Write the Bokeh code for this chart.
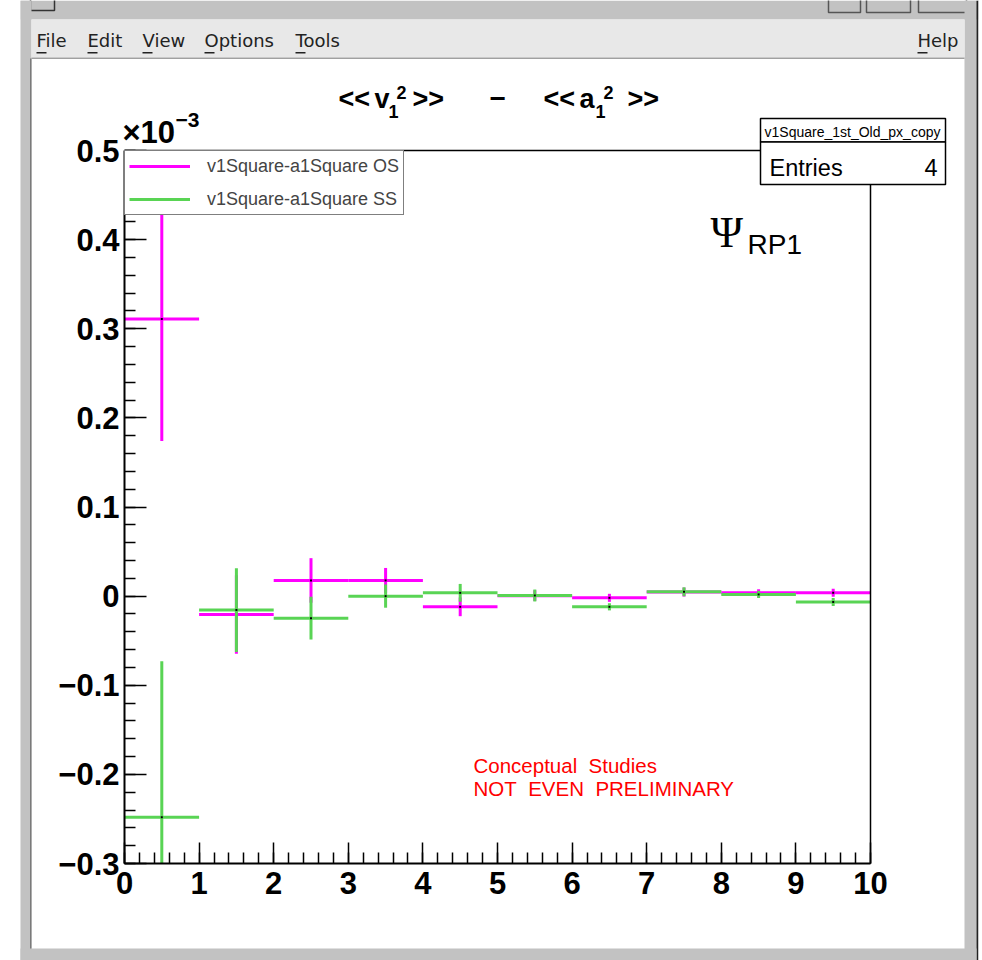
from bokeh.plotting import figure
from bokeh.models import (ColumnDataSource, FixedTicker, LinearAxis, Range1d, BoxAnnotation,
                          Label, Legend, LegendItem, CustomJSTickFormatter, GridBox)
from bokeh.embed import file_html
from bokeh.resources import INLINE

# Histogram bins (x) and the two series, values in units of 1e-3
bin_centers = [0.5, 1.5, 2.5, 3.5, 4.5, 5.5, 6.5, 7.5, 8.5, 9.5]
bin_half_width = 0.5
os_values = [0.311, -0.0206, 0.0176, 0.0176, -0.012, 0.0005, -0.0019, 0.0045, 0.0037, 0.0037]
os_errors = [0.137, 0.044, 0.025, 0.014, 0.0105, 0.006, 0.0045, 0.005, 0.004, 0.0045]
ss_values = [-0.248, -0.0157, -0.0247, 0.0, 0.0037, 0.0007, -0.012, 0.0049, 0.0019, -0.0067]
ss_errors = [0.175, 0.047, 0.024, 0.013, 0.010, 0.0067, 0.004, 0.005, 0.004, 0.0045]

os_label = "v1Square-a1Square OS"
ss_label = "v1Square-a1Square SS"
hist_name = "v1Square_1st_Old_px_copy"
entries = 4

x_major = [0, 1, 2, 3, 4, 5, 6, 7, 8, 9, 10]
x_minor = [i * 0.2 for i in range(51)]
y_major = [-0.3, -0.2, -0.1, 0.0, 0.1, 0.2, 0.3, 0.4, 0.5]
y_minor = [round(-0.3 + i * 0.02, 2) for i in range(41)]

MAGENTA = "#ff00ff"
GREEN = "#59d454"
SANS = "Liberation Sans"
W, H = 982, 960

# ---------------------------------------------------------------- main histogram pad
p = figure(width=W, height=H, x_range=Range1d(0, 10), y_range=Range1d(-0.3, 0.5),
           output_backend="svg", toolbar_location=None, title=None,
           min_border_left=124, min_border_right=112, min_border_top=150, min_border_bottom=97)
p.frame_align = False
p.grid.visible = False
p.outline_line_color = None
p.background_fill_color = "white"
p.border_fill_color = "white"


def style_axis(ax, tick_len, minor_len):
    ax.axis_line_color = "black"
    ax.axis_line_width = 2
    ax.major_tick_line_color = "black"
    ax.major_tick_line_width = 1.5
    ax.minor_tick_line_color = "black"
    ax.minor_tick_line_width = 1.5
    ax.major_tick_in = tick_len
    ax.major_tick_out = 0
    ax.minor_tick_in = minor_len
    ax.minor_tick_out = 0
    ax.major_label_text_font = SANS
    ax.major_label_text_font_style = "bold"
    ax.major_label_text_font_size = "31px"
    ax.major_label_text_color = "black"


xa = p.xaxis[0]
xa.ticker = FixedTicker(ticks=x_major, minor_ticks=x_minor)
style_axis(xa, 21, 11)
xa.major_label_standoff = 8

ya = p.yaxis[0]
ya.ticker = FixedTicker(ticks=y_major, minor_ticks=y_minor)
ya.formatter = CustomJSTickFormatter(code="""
    if (Math.abs(tick) < 1e-9) return "0";
    return tick.toFixed(1).replace("-", "\u2212");
""")
style_axis(ya, 22, 11)
ya.major_label_standoff = 5

# top and right frame edges
for side in ("above", "right"):
    ax = LinearAxis(axis_line_color="black", axis_line_width=1.5,
                    major_tick_line_color=None, minor_tick_line_color=None,
                    major_label_text_color=None, major_label_text_font_size="0px")
    p.add_layout(ax, side)


def draw_series(vals, errs, color):
    src = ColumnDataSource(dict(
        x=bin_centers, y=vals,
        x0=[c - bin_half_width for c in bin_centers],
        x1=[c + bin_half_width for c in bin_centers],
        lo=[v - e for v, e in zip(vals, errs)],
        hi=[v + e for v, e in zip(vals, errs)],
    ))
    h = p.segment(x0="x0", y0="y", x1="x1", y1="y", source=src, line_color=color, line_width=3)
    p.segment(x0="x", y0="lo", x1="x", y1="hi", source=src, line_color=color, line_width=3)
    p.scatter("x", "y", source=src, marker="square", size=2, fill_color="black",
              line_color=None)
    return h


os_h = draw_series(os_values, os_errors, MAGENTA)
ss_h = draw_series(ss_values, ss_errors, GREEN)

legend = Legend(items=[LegendItem(label=os_label, renderers=[os_h]),
                       LegendItem(label=ss_label, renderers=[ss_h])],
                location="top_left", margin=0, padding=4, spacing=11,
                label_height=22, glyph_height=22, glyph_width=61, label_standoff=17,
                label_text_font=SANS, label_text_font_size="18px",
                border_line_color="black", border_line_width=1.5,
                background_fill_color="white", background_fill_alpha=1.0)
p.add_layout(legend)


def clabel(fig, x, y, text, size, font=SANS, style="normal", color="black", align="left"):
    # y is the wanted baseline in canvas pixels; the renderer sets the text
    # about 0.42 em lower than the given anchor, so lift it by that much
    fig.add_layout(Label(x=x, y=y - 0.42 * size, x_units="canvas", y_units="canvas", text=text,
                         text_font=font, text_font_size=f"{size}px", text_font_style=style,
                         text_color=color, text_align=align, text_baseline="alphabetic"))


# reaction-plane annotation
clabel(p, 710, 250, "\u03a8", 44, font="Liberation Serif")
clabel(p, 747, 256, "RP1", 28)

# status note
NB = "\u00a0"
clabel(p, 473, 774, "Conceptual" + NB * 2 + "Studies", 20.5, color="#ff0000")
clabel(p, 473, 797, "NOT" + NB * 2 + "EVEN" + NB * 2 + "PRELIMINARY", 20.5, color="#ff0000")

# ---------------------------------------------------------------- window layer
win = figure(width=W, height=H, x_range=Range1d(0, W), y_range=Range1d(H, 0),
             output_backend="svg", toolbar_location=None, title=None, min_border=0,
             x_axis_location=None, y_axis_location=None)
win.frame_align = False
win.grid.visible = False
win.outline_line_color = None
win.background_fill_alpha = 0
win.border_fill_alpha = 0


def cbox(left, right, top, bottom, fill, line=None, lw=1):
    win.add_layout(BoxAnnotation(left=left, right=right, top=top, bottom=bottom,
                                 left_units="canvas", right_units="canvas",
                                 top_units="canvas", bottom_units="canvas",
                                 fill_color=fill, fill_alpha=1.0 if fill else 0,
                                 line_color=line, line_width=lw, line_alpha=1.0))


# frame, title bar and menu bar
cbox(20, 978, 0, 19, "#c2c2c2")
cbox(30, 54, -2, 10, None, "#333333", 1.5)
for bl, br in ((828, 860), (866, 910), (918, 966)):
    cbox(bl, br, -2, 12, None, "#555555", 1.5)
cbox(0, 20, 0, 960, "white")
cbox(20, 31, 0, 960, "#c2c2c2")
cbox(964, 976, 0, 960, "#c2c2c2")
cbox(976, 978, 0, 960, "#222222")
cbox(978, 982, 0, 960, "white")
cbox(20, 976, 948, 960, "#c2c2c2")
cbox(31, 964, 19, 57, "#e8e8e8")
cbox(31, 964, 57, 58.5, "#a0a0a0")
cbox(29.5, 31, 58, 948, "#7a7a7a")

menu = [("File", 36), ("Edit", 87), ("View", 142), ("Options", 204), ("Tools", 295), ("Help", 917)]
for name, mx in menu:
    clabel(win, mx, 48, name, 18, font="DejaVu Sans", color="#222222")
    cbox(mx, mx + 10, 51.5, 53, "#222222")

# histogram title
clabel(win, 338, 110, "<<", 27, style="bold")
clabel(win, 374, 110, "v", 27, style="bold")
clabel(win, 388, 119, "1", 18, style="bold")
clabel(win, 396, 100, "2", 18, style="bold")
clabel(win, 412, 110, ">>", 27, style="bold")
clabel(win, 489, 110, "\u2212", 28, style="bold")
clabel(win, 543, 110, "<<", 27, style="bold")
clabel(win, 579, 110, "a", 27, style="bold")
clabel(win, 595, 119, "1", 18, style="bold")
clabel(win, 603, 100, "2", 18, style="bold")
clabel(win, 627, 110, ">>", 27, style="bold")

# axis exponent
clabel(win, 122, 145, "\u00d710", 31, style="bold")
clabel(win, 175, 128, "\u22123", 21, style="bold")

# statistics box
cbox(760, 945, 118, 141.5, "white", "black", 1.5)
cbox(760, 945, 141.5, 184, "white", "black", 1.5)
clabel(win, 852, 137, hist_name, 14, align="center")
clabel(win, 769, 177, "Entries", 23.5)
clabel(win, 937, 177, str(entries), 23.5, align="right")

layout = GridBox(children=[(p, 0, 0), (win, 0, 0)])
open("out.html", "w").write(file_html(layout, INLINE))
